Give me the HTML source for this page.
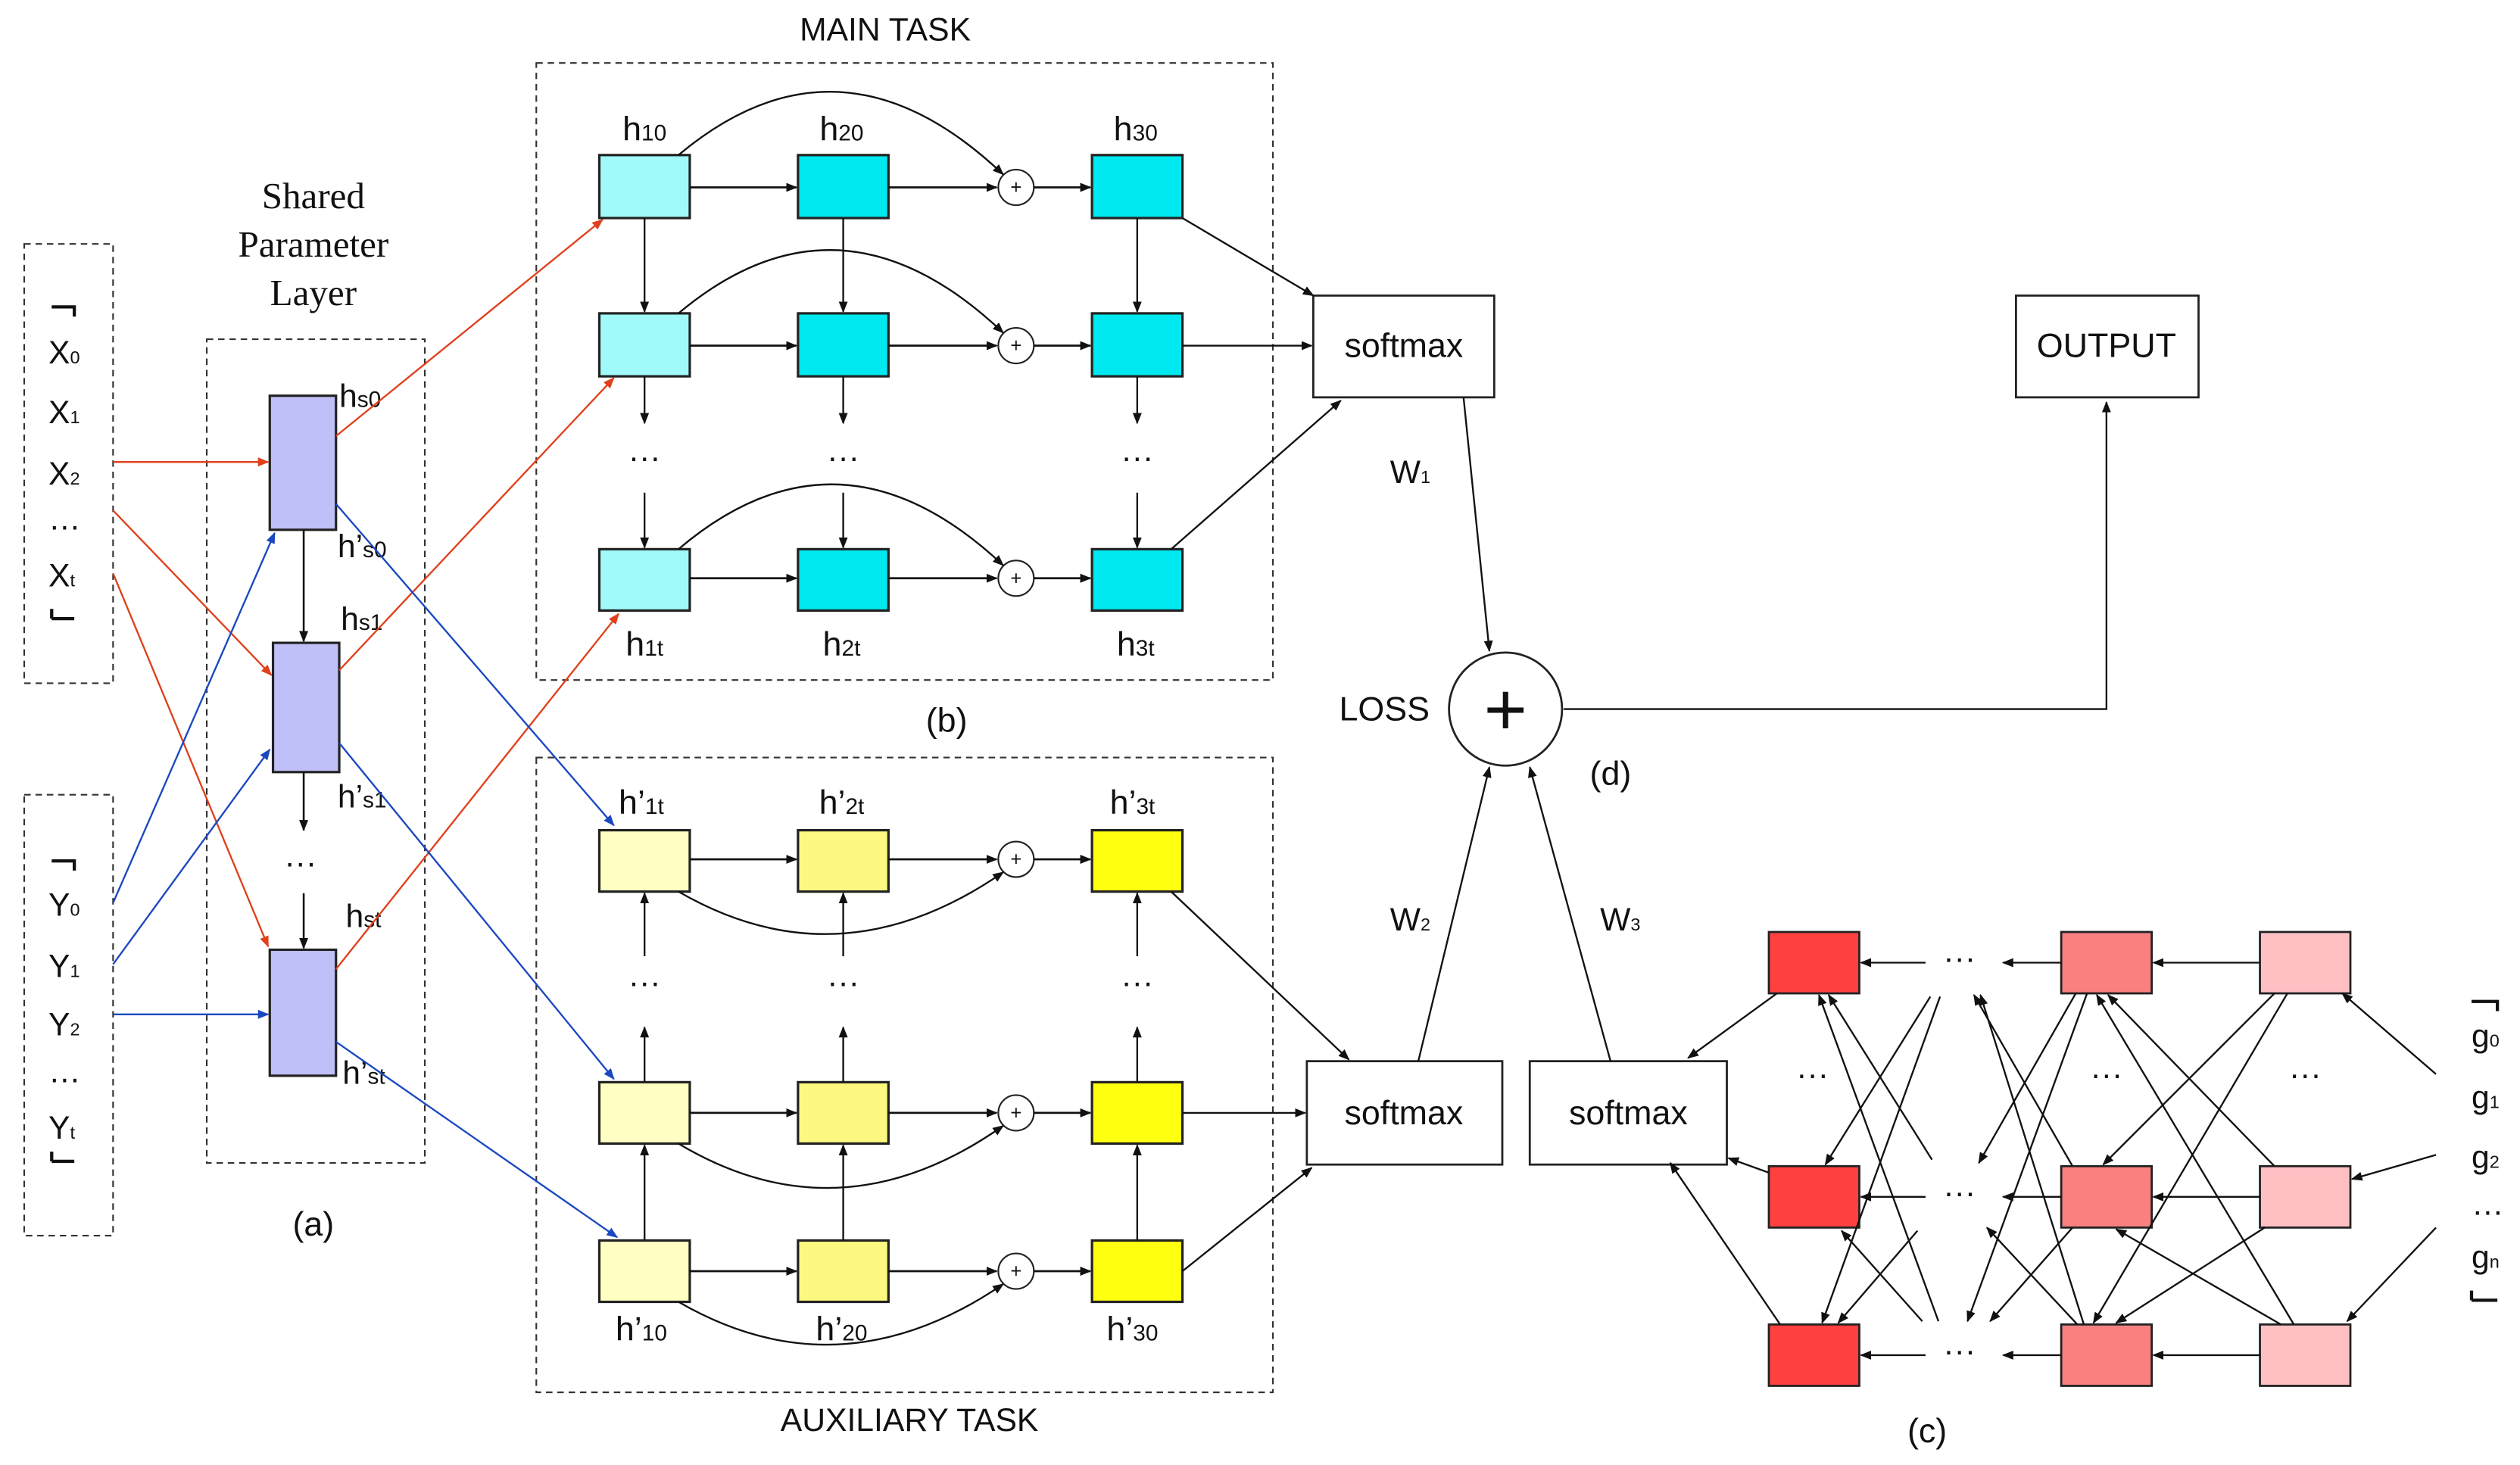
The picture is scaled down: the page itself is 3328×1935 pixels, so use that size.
<!DOCTYPE html>
<html><head><meta charset="utf-8"><style>
html,body{margin:0;padding:0;background:#fff;}
svg{display:block;}
text{font-family:"Liberation Sans",sans-serif;fill:#111;}
</style></head><body>
<svg width="3328" height="1935" viewBox="0 0 1560 907" preserveAspectRatio="none" xmlns="http://www.w3.org/2000/svg">
<defs>
<marker id="a" viewBox="0 0 10 10" refX="9" refY="5" markerWidth="7" markerHeight="7" orient="auto" markerUnits="userSpaceOnUse"><path d="M0,1 L10,5 L0,9 z" fill="#111"/></marker>
<marker id="r" viewBox="0 0 10 10" refX="9" refY="5" markerWidth="7" markerHeight="7" orient="auto" markerUnits="userSpaceOnUse"><path d="M0,1 L10,5 L0,9 z" fill="#e0401c"/></marker>
<marker id="b" viewBox="0 0 10 10" refX="9" refY="5" markerWidth="7" markerHeight="7" orient="auto" markerUnits="userSpaceOnUse"><path d="M0,1 L10,5 L0,9 z" fill="#1a48c0"/></marker>
</defs>

<!-- dashed boxes -->
<g fill="none" stroke="#333" stroke-width="1" stroke-dasharray="4,3">
<rect x="15" y="151" width="55" height="272"/>
<rect x="15" y="492" width="55" height="273"/>
<rect x="128" y="210" width="135" height="510"/>
<rect x="332" y="39" width="456" height="382"/>
<rect x="332" y="469" width="456" height="393"/>
</g>

<!-- titles -->
<text x="548" y="25" font-size="20" text-anchor="middle">MAIN TASK</text>
<text x="563" y="886" font-size="20" text-anchor="middle">AUXILIARY TASK</text>
<text x="586" y="453" font-size="21" text-anchor="middle">(b)</text>
<text x="194" y="765" font-size="21" text-anchor="middle">(a)</text>
<text x="997" y="486" font-size="21" text-anchor="middle">(d)</text>
<text x="1193" y="893" font-size="21" text-anchor="middle">(c)</text>
<g font-family="Liberation Serif,serif" font-size="23" text-anchor="middle">
<text x="194" y="129" style="font-family:'Liberation Serif',serif">Shared</text>
<text x="194" y="159" style="font-family:'Liberation Serif',serif">Parameter</text>
<text x="194" y="189" style="font-family:'Liberation Serif',serif">Layer</text>
</g>

<!-- X / Y inputs -->
<g fill="none" stroke="#111" stroke-width="2">
<path d="M32,190 H46 V196"/><path d="M32,383 V377 M32,383 H46"/>
<path d="M32,533 H46 V539"/><path d="M32,719 V713 M32,719 H46"/>
<path d="M1530,620 H1546 V626"/><path d="M1530,805 V799 M1530,805 H1546"/>
</g>
<g font-size="20">
<text x="30" y="225">X<tspan font-size="11">0</tspan></text>
<text x="30" y="262">X<tspan font-size="11">1</tspan></text>
<text x="30" y="300">X<tspan font-size="11">2</tspan></text>
<text x="30" y="328">…</text>
<text x="30" y="363">X<tspan font-size="11">t</tspan></text>
<text x="30" y="567">Y<tspan font-size="11">0</tspan></text>
<text x="30" y="605">Y<tspan font-size="11">1</tspan></text>
<text x="30" y="641">Y<tspan font-size="11">2</tspan></text>
<text x="30" y="670">…</text>
<text x="30" y="705">Y<tspan font-size="11">t</tspan></text>
<text x="1530" y="648">g<tspan font-size="11">0</tspan></text>
<text x="1530" y="686">g<tspan font-size="11">1</tspan></text>
<text x="1530" y="723">g<tspan font-size="11">2</tspan></text>
<text x="1530" y="752">…</text>
<text x="1530" y="785">g<tspan font-size="11">n</tspan></text>
</g>

<!-- shared layer -->
<g fill="#c0c0f8" stroke="#222" stroke-width="1.5">
<rect x="167" y="245" width="41" height="83"/>
<rect x="169" y="398" width="41" height="80"/>
<rect x="167" y="588" width="41" height="78"/>
</g>
<g stroke="#111" stroke-width="1.2" marker-end="url(#a)">
<line x1="188" y1="328" x2="188" y2="397"/>
<line x1="188" y1="478" x2="188" y2="514"/>
<line x1="188" y1="553" x2="188" y2="587"/>
</g>
<text x="176" y="541" font-size="20">···</text>
<g font-size="20">
<text x="210" y="252">h<tspan font-size="14">s0</tspan></text>
<text x="209" y="345">h’<tspan font-size="14">s0</tspan></text>
<text x="211" y="390">h<tspan font-size="14">s1</tspan></text>
<text x="209" y="500">h’<tspan font-size="14">s1</tspan></text>
<text x="214" y="574">h<tspan font-size="14">st</tspan></text>
<text x="212" y="671">h’<tspan font-size="14">st</tspan></text>
</g>

<!-- red arrows -->
<g stroke="#e0401c" stroke-width="1.1" marker-end="url(#r)">
<line x1="70" y1="286" x2="166" y2="286"/>
<line x1="70" y1="316" x2="168" y2="418"/>
<line x1="70" y1="355" x2="166" y2="586"/>
<line x1="208" y1="270" x2="373" y2="136"/>
<line x1="210" y1="415" x2="380" y2="234"/>
<line x1="208" y1="600" x2="383" y2="380"/>
</g>
<!-- blue arrows -->
<g stroke="#1a48c0" stroke-width="1.1" marker-end="url(#b)">
<line x1="70" y1="559" x2="170" y2="330"/>
<line x1="70" y1="597" x2="167" y2="464"/>
<line x1="70" y1="628" x2="166" y2="628"/>
<line x1="208" y1="312" x2="380" y2="511"/>
<line x1="210" y1="460" x2="380" y2="668"/>
<line x1="208" y1="645" x2="382" y2="766"/>
</g>

<!-- main task boxes -->
<g stroke="#222" stroke-width="1.5">
<rect x="371" y="96" width="56" height="39" fill="#a0fafa"/>
<rect x="494" y="96" width="56" height="39" fill="#00e8f0"/>
<rect x="676" y="96" width="56" height="39" fill="#00e8f0"/>
<rect x="371" y="194" width="56" height="39" fill="#a0fafa"/>
<rect x="494" y="194" width="56" height="39" fill="#00e8f0"/>
<rect x="676" y="194" width="56" height="39" fill="#00e8f0"/>
<rect x="371" y="340" width="56" height="38" fill="#a0fafa"/>
<rect x="494" y="340" width="56" height="38" fill="#00e8f0"/>
<rect x="676" y="340" width="56" height="38" fill="#00e8f0"/>
</g>
<!-- aux task boxes -->
<g stroke="#222" stroke-width="1.5">
<rect x="371" y="514" width="56" height="38" fill="#ffffc4"/>
<rect x="494" y="514" width="56" height="38" fill="#fcf880"/>
<rect x="676" y="514" width="56" height="38" fill="#ffff10"/>
<rect x="371" y="670" width="56" height="38" fill="#ffffc4"/>
<rect x="494" y="670" width="56" height="38" fill="#fcf880"/>
<rect x="676" y="670" width="56" height="38" fill="#ffff10"/>
<rect x="371" y="768" width="56" height="38" fill="#ffffc4"/>
<rect x="494" y="768" width="56" height="38" fill="#fcf880"/>
<rect x="676" y="768" width="56" height="38" fill="#ffff10"/>
</g>
<!-- plus circles -->
<g fill="#fff" stroke="#222" stroke-width="1">
<circle cx="629" cy="116" r="11"/><circle cx="629" cy="214" r="11"/><circle cx="629" cy="358" r="11"/>
<circle cx="629" cy="532" r="11"/><circle cx="629" cy="689" r="11"/><circle cx="629" cy="787" r="11"/>
</g>
<g font-size="12" text-anchor="middle">
<text x="629" y="120">+</text><text x="629" y="218">+</text><text x="629" y="362">+</text>
<text x="629" y="536">+</text><text x="629" y="693">+</text><text x="629" y="791">+</text>
</g>

<!-- horizontal arrows in tasks -->
<g stroke="#111" stroke-width="1.3" marker-end="url(#a)">
<line x1="427" y1="116" x2="493" y2="116"/><line x1="550" y1="116" x2="617" y2="116"/><line x1="640" y1="116" x2="675" y2="116"/>
<line x1="427" y1="214" x2="493" y2="214"/><line x1="550" y1="214" x2="617" y2="214"/><line x1="640" y1="214" x2="675" y2="214"/>
<line x1="427" y1="358" x2="493" y2="358"/><line x1="550" y1="358" x2="617" y2="358"/><line x1="640" y1="358" x2="675" y2="358"/>
<line x1="427" y1="532" x2="493" y2="532"/><line x1="550" y1="532" x2="617" y2="532"/><line x1="640" y1="532" x2="675" y2="532"/>
<line x1="427" y1="689" x2="493" y2="689"/><line x1="550" y1="689" x2="617" y2="689"/><line x1="640" y1="689" x2="675" y2="689"/>
<line x1="427" y1="787" x2="493" y2="787"/><line x1="550" y1="787" x2="617" y2="787"/><line x1="640" y1="787" x2="675" y2="787"/>
</g>
<!-- vertical arrows main (down) -->
<g stroke="#111" stroke-width="1.1" marker-end="url(#a)">
<line x1="399" y1="135" x2="399" y2="193"/><line x1="522" y1="135" x2="522" y2="193"/><line x1="704" y1="135" x2="704" y2="193"/>
<line x1="399" y1="233" x2="399" y2="262"/><line x1="522" y1="233" x2="522" y2="262"/><line x1="704" y1="233" x2="704" y2="262"/>
<line x1="399" y1="305" x2="399" y2="339"/><line x1="522" y1="305" x2="522" y2="339"/><line x1="704" y1="305" x2="704" y2="339"/>
<!-- aux up -->
<line x1="399" y1="768" x2="399" y2="709"/><line x1="522" y1="768" x2="522" y2="709"/><line x1="704" y1="768" x2="704" y2="709"/>
<line x1="399" y1="670" x2="399" y2="636"/><line x1="522" y1="670" x2="522" y2="636"/><line x1="704" y1="670" x2="704" y2="636"/>
<line x1="399" y1="592" x2="399" y2="553"/><line x1="522" y1="592" x2="522" y2="553"/><line x1="704" y1="592" x2="704" y2="553"/>
</g>
<g font-size="20" text-anchor="middle">
<text x="399" y="290">···</text><text x="522" y="290">···</text><text x="704" y="290">···</text>
<text x="399" y="615">···</text><text x="522" y="615">···</text><text x="704" y="615">···</text>
</g>
<!-- curves -->
<g fill="none" stroke="#111" stroke-width="1.1" marker-end="url(#a)">
<path d="M420,96 Q520,12 621,108"/>
<path d="M420,194 Q520,110 621,206"/>
<path d="M420,340 Q520,255 621,350"/>
<path d="M420,552 Q520,610 621,540"/>
<path d="M420,708 Q520,768 621,697"/>
<path d="M420,806 Q520,864 621,795"/>
</g>
<!-- task labels -->
<g font-size="21" text-anchor="middle">
<text x="399" y="87">h<tspan font-size="14">10</tspan></text>
<text x="521" y="87">h<tspan font-size="14">20</tspan></text>
<text x="703" y="87">h<tspan font-size="14">30</tspan></text>
<text x="399" y="406">h<tspan font-size="14">1t</tspan></text>
<text x="521" y="406">h<tspan font-size="14">2t</tspan></text>
<text x="703" y="406">h<tspan font-size="14">3t</tspan></text>
<text x="397" y="504">h’<tspan font-size="14">1t</tspan></text>
<text x="521" y="504">h’<tspan font-size="14">2t</tspan></text>
<text x="701" y="504">h’<tspan font-size="14">3t</tspan></text>
<text x="397" y="830">h’<tspan font-size="14">10</tspan></text>
<text x="521" y="830">h’<tspan font-size="14">20</tspan></text>
<text x="701" y="830">h’<tspan font-size="14">30</tspan></text>
</g>

<!-- softmax & output -->
<g fill="#fff" stroke="#222" stroke-width="1.3">
<rect x="813" y="183" width="112" height="63"/>
<rect x="809" y="657" width="121" height="64"/>
<rect x="947" y="657" width="122" height="64"/>
<rect x="1248" y="183" width="113" height="63"/>
<circle cx="932" cy="439" r="35"/>
</g>
<g font-size="21" text-anchor="middle">
<text x="869" y="221">softmax</text>
<text x="869" y="696">softmax</text>
<text x="1008" y="696">softmax</text>
<text x="1304" y="221">OUTPUT</text>
<text x="857" y="446">LOSS</text>
<text x="932" y="455" font-size="46">+</text>
<text x="873" y="299" font-size="20">W<tspan font-size="11">1</tspan></text>
<text x="873" y="576" font-size="20">W<tspan font-size="11">2</tspan></text>
<text x="1003" y="576" font-size="20">W<tspan font-size="11">3</tspan></text>
</g>
<g stroke="#111" stroke-width="1.1" fill="none" marker-end="url(#a)">
<line x1="732" y1="135" x2="813" y2="183"/>
<line x1="732" y1="214" x2="812" y2="214"/>
<line x1="725" y1="340" x2="830" y2="248"/>
<line x1="725" y1="552" x2="835" y2="656"/>
<line x1="732" y1="689" x2="808" y2="689"/>
<line x1="732" y1="787" x2="812" y2="723"/>
<line x1="906" y1="246" x2="922" y2="403"/>
<line x1="878" y1="657" x2="922" y2="475"/>
<line x1="997" y1="657" x2="947" y2="475"/>
<path d="M968,439 H1304 V249"/>
</g>

<!-- (c) red network -->
<g stroke="#222" stroke-width="1.3">
<rect x="1095" y="577" width="56" height="38" fill="#ff4040"/>
<rect x="1095" y="722" width="56" height="38" fill="#ff4040"/>
<rect x="1095" y="820" width="56" height="38" fill="#ff4040"/>
<rect x="1276" y="577" width="56" height="38" fill="#f88080"/>
<rect x="1276" y="722" width="56" height="38" fill="#f88080"/>
<rect x="1276" y="820" width="56" height="38" fill="#f88080"/>
<rect x="1399" y="577" width="56" height="38" fill="#ffc0c4"/>
<rect x="1399" y="722" width="56" height="38" fill="#ffc0c4"/>
<rect x="1399" y="820" width="56" height="38" fill="#ffc0c4"/>
</g>
<g font-size="20" text-anchor="middle">
<text x="1213" y="600">···</text><text x="1213" y="745">···</text><text x="1213" y="843">···</text>
<text x="1122" y="672">···</text><text x="1304" y="672">···</text><text x="1427" y="672">···</text>
</g>
<g stroke="#111" stroke-width="1.1" fill="none" marker-end="url(#a)">
<line x1="1399" y1="596" x2="1333" y2="596"/><line x1="1399" y1="741" x2="1333" y2="741"/><line x1="1399" y1="839" x2="1333" y2="839"/>
<line x1="1276" y1="596" x2="1240" y2="596"/><line x1="1276" y1="741" x2="1240" y2="741"/><line x1="1276" y1="839" x2="1240" y2="839"/>
<line x1="1192" y1="596" x2="1152" y2="596"/><line x1="1192" y1="741" x2="1152" y2="741"/><line x1="1192" y1="839" x2="1152" y2="839"/>
<!-- col3 -> col2 -->
<line x1="1408" y1="615" x2="1302" y2="721"/>
<line x1="1416" y1="615" x2="1296" y2="819"/>
<line x1="1408" y1="722" x2="1305" y2="616"/>
<line x1="1402" y1="760" x2="1310" y2="819"/>
<line x1="1420" y1="820" x2="1298" y2="616"/>
<line x1="1412" y1="820" x2="1310" y2="761"/>
<!-- col2 -> dots -->
<line x1="1285" y1="615" x2="1225" y2="720"/>
<line x1="1292" y1="615" x2="1218" y2="818"/>
<line x1="1283" y1="722" x2="1222" y2="616"/>
<line x1="1283" y1="760" x2="1232" y2="818"/>
<line x1="1290" y1="820" x2="1226" y2="616"/>
<line x1="1286" y1="820" x2="1230" y2="760"/>
<!-- dots -> col1 -->
<line x1="1195" y1="617" x2="1130" y2="721"/>
<line x1="1201" y1="617" x2="1128" y2="819"/>
<line x1="1196" y1="718" x2="1132" y2="616"/>
<line x1="1187" y1="762" x2="1138" y2="819"/>
<line x1="1200" y1="818" x2="1126" y2="616"/>
<line x1="1190" y1="818" x2="1140" y2="762"/>
<!-- col1 -> softmax -->
<line x1="1100" y1="615" x2="1045" y2="655"/>
<line x1="1095" y1="726" x2="1070" y2="717"/>
<line x1="1102" y1="820" x2="1034" y2="720"/>
<!-- g -> col3 -->
<line x1="1508" y1="665" x2="1450" y2="615"/>
<line x1="1508" y1="715" x2="1456" y2="730"/>
<line x1="1508" y1="760" x2="1453" y2="818"/>
</g>
</svg>
</body></html>
